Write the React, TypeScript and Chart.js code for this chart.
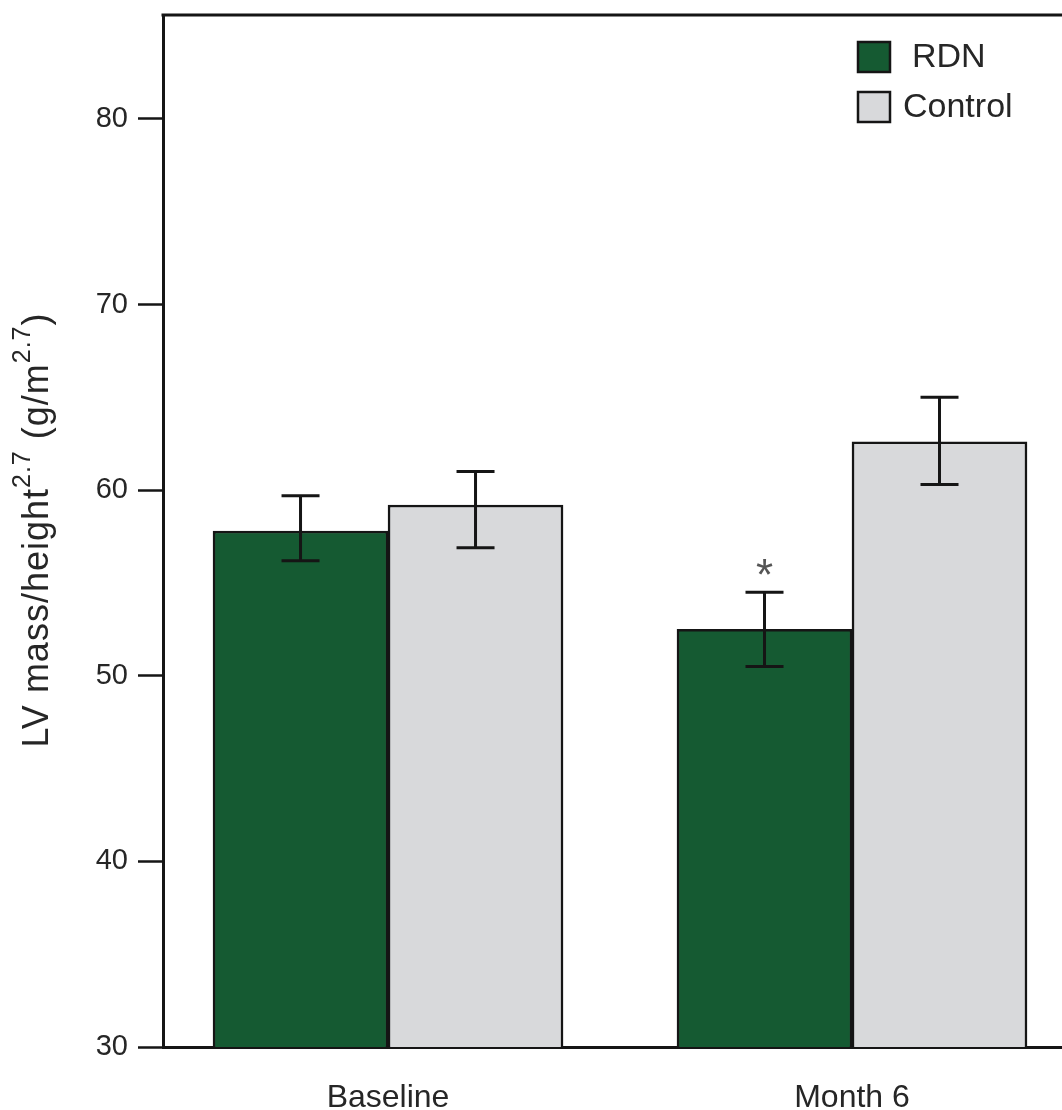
import React, { useEffect, useRef } from 'react';
import { Chart, registerables } from 'chart.js';

Chart.register(...registerables);

// Groups along the x axis and where they sit on the linear index scale
const categories = ['Baseline', 'Month 6'];
const categoryX = [1, 2];

// Series
const seriesNames = ['RDN', 'Control'];
const rdnMean = [57.8, 52.5];
const controlMean = [59.2, 62.6];

// Error bar limits
const rdnLow = [56.2, 50.5];
const rdnHigh = [59.7, 54.5];
const controlLow = [56.9, 60.3];
const controlHigh = [61.0, 65.0];

// Significance markers (per series, per group)
const rdnSignificant = [false, true];
const controlSignificant = [false, false];

// Y axis
const yTicks = [30, 40, 50, 60, 70, 80];
const yMin = 30;
const yMax = 85.6;

const FONT = "'Liberation Sans', Arial, Helvetica, sans-serif";
const INK = '#151515';
const TEXT = '#262626';
const seriesColors = ['#155a32', '#d8d9db'];

const errLow = [rdnLow, controlLow];
const errHigh = [rdnHigh, controlHigh];
const marks = [rdnSignificant, controlSignificant];

const errorBarPlugin = {
  id: 'errorBars',
  afterDatasetsDraw(chart: any) {
    const ctx = chart.ctx;
    const y = chart.scales.y;
    ctx.save();
    ctx.strokeStyle = INK;
    ctx.lineWidth = 3;
    ctx.lineCap = 'butt';
    chart.data.datasets.forEach((_: any, di: number) => {
      const meta = chart.getDatasetMeta(di);
      meta.data.forEach((bar: any, i: number) => {
        const x = bar.x;
        const top = y.getPixelForValue(errHigh[di][i]);
        const bottom = y.getPixelForValue(errLow[di][i]);
        const half = 19;
        ctx.beginPath();
        ctx.moveTo(x, top);
        ctx.lineTo(x, bottom);
        ctx.moveTo(x - half, top);
        ctx.lineTo(x + half, top);
        ctx.moveTo(x - half, bottom);
        ctx.lineTo(x + half, bottom);
        ctx.stroke();
        if (marks[di][i]) {
          ctx.fillStyle = '#555';
          ctx.font = `44px ${FONT}`;
          ctx.textAlign = 'center';
          ctx.textBaseline = 'alphabetic';
          ctx.fillText('*', x, top - 2);
        }
      });
    });
    ctx.restore();
  },
};

const framePlugin = {
  id: 'frame',
  afterDraw(chart: any) {
    const ctx = chart.ctx;
    const { left, right, top } = chart.chartArea;
    ctx.save();
    // top frame line
    ctx.strokeStyle = INK;
    ctx.lineWidth = 3;
    ctx.beginPath();
    ctx.moveTo(left - 1.5, top);
    ctx.lineTo(right, top);
    ctx.stroke();

    // legend, top right inside the plot
    const boxX = right - 204;
    const rows = [42, 92];
    const textX = [right - 150, right - 159];
    chart.data.datasets.forEach((ds: any, i: number) => {
      ctx.fillStyle = ds.backgroundColor;
      ctx.fillRect(boxX, rows[i], 32, 30);
      ctx.strokeStyle = INK;
      ctx.lineWidth = 2.5;
      ctx.strokeRect(boxX, rows[i], 32, 30);
      ctx.fillStyle = TEXT;
      ctx.font = `34px ${FONT}`;
      ctx.textAlign = 'left';
      ctx.textBaseline = 'middle';
      ctx.fillText(ds.label, textX[i], rows[i] + 16);
    });

    // rotated y axis title with superscripts
    const parts = [
      { t: 'LV mass/height', sup: false },
      { t: '2.7', sup: true },
      { t: ' (g/m', sup: false },
      { t: '2.7', sup: true },
      { t: ')', sup: false },
    ];
    const mainFont = `36px ${FONT}`;
    const supFont = `25px ${FONT}`;
    (ctx as any).letterSpacing = '1px';
    let total = 0;
    const widths = parts.map((p) => {
      ctx.font = p.sup ? supFont : mainFont;
      const w = ctx.measureText(p.t).width;
      total += w;
      return w;
    });
    ctx.translate(48, 530);
    ctx.rotate(-Math.PI / 2);
    ctx.fillStyle = TEXT;
    ctx.textAlign = 'left';
    ctx.textBaseline = 'alphabetic';
    let cx = -total / 2;
    parts.forEach((p, i) => {
      ctx.font = p.sup ? supFont : mainFont;
      ctx.fillText(p.t, cx, p.sup ? -18 : 0);
      cx += widths[i];
    });
    ctx.restore();
  },
};

export default function App() {
  const canvasRef = useRef<HTMLCanvasElement | null>(null);

  useEffect(() => {
    const canvas = canvasRef.current;
    if (!canvas) return;
    const means = [rdnMean, controlMean];
    const chart = new Chart(canvas, {
      type: 'bar',
      data: {
        datasets: seriesNames.map((name, si) => ({
          label: name,
          data: categoryX.map((x, i) => ({ x, y: means[si][i] })),
          backgroundColor: seriesColors[si],
          borderColor: INK,
          borderWidth: 2.5,
          borderSkipped: 'start' as const,
          barThickness: 175,
        })),
      },
      options: {
        responsive: false,
        animation: false,
        layout: { padding: { top: 15, left: 0, right: 0, bottom: 0 } },
        plugins: {
          legend: { display: false },
          tooltip: { enabled: false },
        },
        scales: {
          x: {
            type: 'linear',
            offset: false,
            min: 0.515,
            max: 2.4526,
            afterBuildTicks: (scale: any) => {
              scale.ticks = categoryX.map((v) => ({ value: v }));
            },
            afterFit: (scale: any) => {
              scale.height = 63;
              scale.paddingLeft = 0;
              scale.paddingRight = 0;
            },
            grid: { display: true, drawOnChartArea: false, drawTicks: false },
            border: { display: true, color: INK, width: 3 },
            ticks: {
              padding: 32,
              color: TEXT,
              font: { family: FONT, size: 32 },
              maxRotation: 0,
              autoSkip: false,
              callback: (v: any) => {
                const idx = categoryX.indexOf(Number(v));
                return idx >= 0 ? categories[idx] : '';
              },
            },
          },
          y: {
            min: yMin,
            max: yMax,
            afterBuildTicks: (scale: any) => {
              scale.ticks = yTicks.map((v) => ({ value: v }));
            },
            afterFit: (scale: any) => {
              scale.width = 163;
              scale.paddingTop = 0;
              scale.paddingBottom = 0;
            },
            grid: {
              display: true,
              drawOnChartArea: false,
              drawTicks: true,
              tickLength: 25,
              tickColor: INK,
              tickWidth: 2.5,
            },
            border: { display: true, color: INK, width: 3 },
            ticks: {
              padding: 10,
              color: TEXT,
              font: { family: FONT, size: 29 },
            },
          },
        },
      },
      plugins: [errorBarPlugin, framePlugin],
    } as any);
    return () => chart.destroy();
  }, []);

  return (
    <div style={{ position: 'absolute', left: 0, top: 0, width: 1062, height: 1110, background: '#fff' }}>
      <canvas ref={canvasRef} width={1062} height={1110} style={{ display: 'block' }} />
    </div>
  );
}
